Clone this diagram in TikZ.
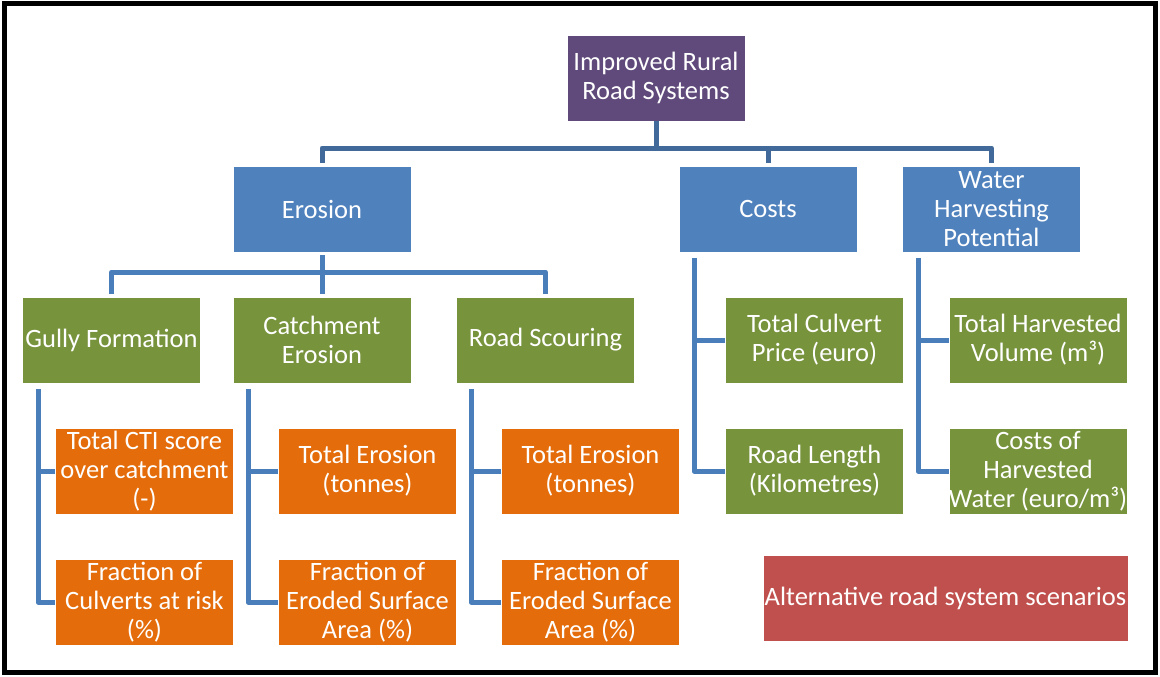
\documentclass[tikz,border=0pt]{standalone}
\usepackage{fontspec}
\setmainfont{Carlito}
\definecolor{cpurple}{HTML}{604A7B}
\definecolor{cblue}{HTML}{4F81BD}
\definecolor{cgreen}{HTML}{77933C}
\definecolor{corange}{HTML}{E46C0A}
\definecolor{cred}{HTML}{C0504D}
\definecolor{lineA}{HTML}{41699A}
\definecolor{lineB}{HTML}{4A7EBB}
\tikzset{
  box/.style={minimum width=178pt, minimum height=86pt, inner sep=0pt, align=center, text=white,
    font=\fontsize{26.5}{29}\selectfont, draw=white, line width=0.6pt},
  purplebox/.style={box, fill=cpurple},
  bluebox/.style={box, fill=cblue},
  greenbox/.style={box, fill=cgreen},
  orangebox/.style={box, fill=corange},
  redbox/.style={box, fill=cred, minimum width=365pt},
  connA/.style={draw=lineA, line width=5pt, line join=round},
  connB/.style={draw=lineB, line width=5pt, line join=round},
}
\begin{document}
\begin{tikzpicture}[x=1pt,y=-1pt]
\useasboundingbox (0,0) rectangle (1160,677);
\draw[line width=5pt] (4.5,3.5) rectangle (1155.5,672.5);

\node[purplebox] (root) at (656,78) {Improved Rural\\Road Systems};

\node[bluebox] (erosion) at (322,209) {Erosion};
\node[bluebox] (costs) at (768,209) {Costs};
\node[bluebox] (water) at (991.5,209) {Water\\Harvesting\\Potential};

\node[greenbox] (gully) at (111.5,340) {Gully Formation};
\node[greenbox] (catch) at (322,340) {Catchment\\Erosion};
\node[greenbox] (scour) at (545.5,340) {Road Scouring};
\node[greenbox] (culvert) at (814.5,340) {Total Culvert\\Price (euro)};
\node[greenbox] (harvest) at (1038,340) {Total Harvested\\Volume (m³)};
\node[greenbox] (roadlen) at (814.5,471) {Road Length\\(Kilometres)};
\node[greenbox] (hcost) at (1038,471) {Costs of\\Harvested\\Water (euro/m³)};

\node[orangebox] (cti) at (144.5,471) {Total CTI score\\over catchment\\(-)};
\node[orangebox] (frac1) at (144.5,602) {Fraction of\\Culverts at risk\\(\%)};
\node[orangebox] (ero2) at (367.5,471) {Total Erosion\\(tonnes)};
\node[orangebox] (frac2) at (367.5,602) {Fraction of\\Eroded Surface\\Area (\%)};
\node[orangebox] (ero3) at (590.5,471) {Total Erosion\\(tonnes)};
\node[orangebox] (frac3) at (590.5,602) {Fraction of\\Eroded Surface\\Area (\%)};

\node[redbox] (alt) at (945.5,598.5) {Alternative road system scenarios};

% level 1 -> level 2
\coordinate (bus1) at (656,148);
\draw[connA] (root.south) -- (bus1);
\draw[connA, shorten <=3pt] (erosion.north) |- (bus1);
\draw[connA, shorten >=3pt] (bus1) -| (water.north);
\draw[connA, shorten <=3pt] (costs.north) -- (costs.north |- bus1);

% erosion -> level 3
\coordinate (bus2) at (322,272);
\draw[connB, shorten <=3pt] (erosion.south) -- (bus2);
\draw[connB, shorten <=3pt] (gully.north) |- (bus2);
\draw[connB, shorten >=3pt] (bus2) -| (scour.north);
\draw[connB, shorten <=3pt] (catch.north) -- (catch.north |- bus2);

% side connectors
\coordinate (g0) at (38,389);
\draw[connB] (g0) |- (frac1.west);
\draw[connB] (cti.west) -- (cti.west -| g0);
\coordinate (c0) at (248,389);
\draw[connB] (c0) |- (frac2.west);
\draw[connB] (ero2.west) -- (ero2.west -| c0);
\coordinate (s0) at (471,389);
\draw[connB] (s0) |- (frac3.west);
\draw[connB] (ero3.west) -- (ero3.west -| s0);
\coordinate (k0) at (694,258);
\draw[connB] (k0) |- (roadlen.west);
\draw[connB] (culvert.west) -- (culvert.west -| k0);
\coordinate (w0) at (918,258);
\draw[connB] (w0) |- (hcost.west);
\draw[connB] (harvest.west) -- (harvest.west -| w0);
\end{tikzpicture}
\end{document}
